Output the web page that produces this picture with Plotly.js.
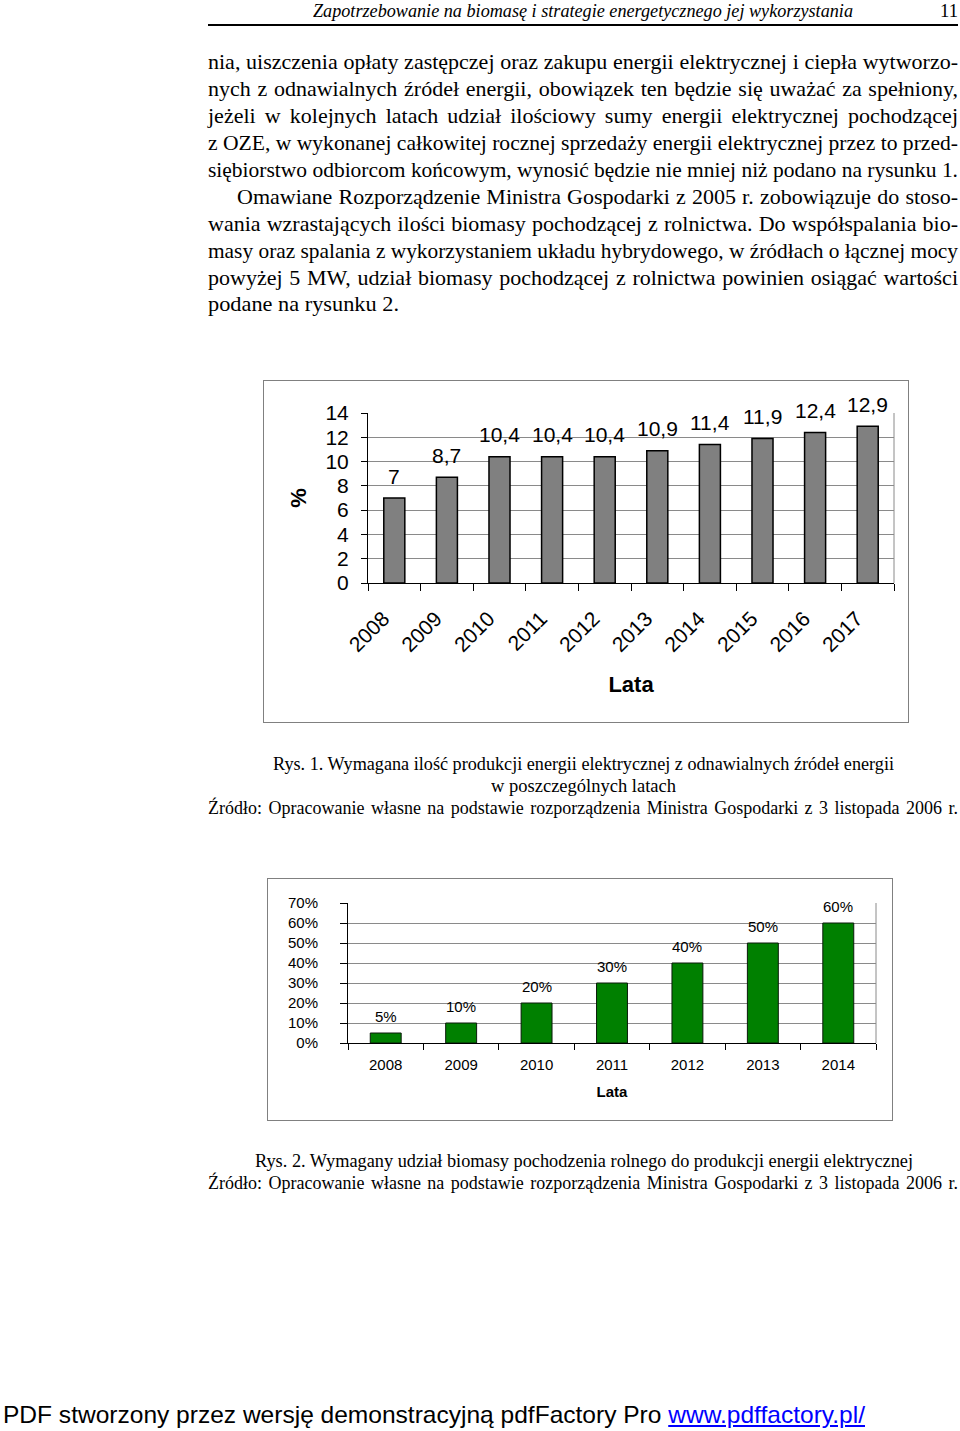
<!DOCTYPE html>
<html>
<head>
<meta charset="utf-8">
<script src="https://cdn.plot.ly/plotly-3.0.1.min.js"></script>
<style>
  html, body { margin:0; padding:0; background:#fff; }
  #page { position:relative; width:960px; height:1431px; overflow:hidden; background:#fff; }
  .t { position:absolute; white-space:nowrap; line-height:1; transform-origin:0 50%; color:#000; }
  .serif { font-family:"Liberation Serif","Times New Roman",serif; }
  .sans { font-family:"Liberation Sans",Arial,sans-serif; }
  .frame { position:absolute; border:1px solid #808080; box-sizing:border-box; }
  .plot { position:absolute; }
</style>
</head>
<body>
<div id="page">
  <div style="position:absolute;left:208px;top:24px;width:750px;height:2px;background:#000"></div>
  <div class="frame" style="left:263px;top:380px;width:646px;height:343px"></div>
  <div class="frame" style="left:267px;top:878px;width:626px;height:243px"></div>
  <div id="chart1" class="plot" style="left:263px;top:380px;width:645px;height:342px"></div>
  <div id="chart2" class="plot" style="left:267px;top:878px;width:625px;height:242px"></div>
</div>
<script>
// ---------- DATA ----------
const years1 = ['2008','2009','2010','2011','2012','2013','2014','2015','2016','2017'];
const ozeShare = [7, 8.7, 10.4, 10.4, 10.4, 10.9, 11.4, 11.9, 12.4, 12.9];

const years2 = ['2008','2009','2010','2011','2012','2013','2014'];
const biomassShare = [5, 10, 20, 30, 40, 50, 60];

const xTitle = 'Lata';
const yTitle1 = '%';

// ---------- PAGE TEXT ----------
const headerText = 'Zapotrzebowanie na biomasę i strategie energetycznego jej wykorzystania';
const pageNumber = '11';
const bodyLines = [
  'nia, uiszczenia opłaty zastępczej oraz zakupu energii elektrycznej i ciepła wytworzo-',
  'nych z odnawialnych źródeł energii, obowiązek ten będzie się uważać za spełniony,',
  'jeżeli w kolejnych latach udział ilościowy sumy energii elektrycznej pochodzącej',
  'z OZE, w wykonanej całkowitej rocznej sprzedaży energii elektrycznej przez to przed-',
  'siębiorstwo odbiorcom końcowym, wynosić będzie nie mniej niż podano na rysunku 1.',
  'Omawiane Rozporządzenie Ministra Gospodarki z 2005 r. zobowiązuje do stoso-',
  'wania wzrastających ilości biomasy pochodzącej z rolnictwa. Do współspalania bio-',
  'masy oraz spalania z wykorzystaniem układu hybrydowego, w źródłach o łącznej mocy',
  'powyżej 5 MW, udział biomasy pochodzącej z rolnictwa powinien osiągać wartości',
  'podane na rysunku 2.'
];
const caption1 = ['Rys. 1. Wymagana ilość produkcji energii elektrycznej z odnawialnych źródeł energii',
                  'w poszczególnych latach',
                  'Źródło: Opracowanie własne na podstawie rozporządzenia Ministra Gospodarki z 3 listopada 2006 r.'];
const caption2 = ['Rys. 2. Wymagany udział biomasy pochodzenia rolnego do produkcji energii elektrycznej',
                  'Źródło: Opracowanie własne na podstawie rozporządzenia Ministra Gospodarki z 3 listopada 2006 r.'];
const footerText = 'PDF stworzony przez wersję demonstracyjną pdfFactory Pro ';
const footerLink = 'www.pdffactory.pl/';

// ---------- PAGE TEXT LAYOUT ----------
const page = document.getElementById('page');
const items = [];
function addText(html, x0, x1, yc, size, cls, mode, extraStyle) {
  const d = document.createElement('div');
  d.className = 't ' + cls;
  d.innerHTML = html;
  d.style.left = x0 + 'px';
  d.style.top = (yc - size * 0.5) + 'px';
  d.style.fontSize = size + 'px';
  if (extraStyle) d.setAttribute('style', d.getAttribute('style') + ';' + extraStyle);
  page.appendChild(d);
  items.push({el: d, w: x1 - x0, mode: mode});
}
addText(headerText, 313, 853, 11, 18, 'serif', 'scale', 'font-style:italic');
addText(pageNumber, 940, 958, 11, 18, 'serif', 'scale');
const bodyY = [62, 89, 116, 143, 170, 197, 224, 251, 278, 304];
bodyLines.forEach((s, i) => {
  const x0 = (i === 5) ? 237 : 208;
  const x1 = (i === 9) ? 399 : 958;
  addText(s, x0, x1, bodyY[i], 22, 'serif', i === 9 ? 'scale' : 'justify');
});
addText(caption1[0], 273, 894, 764, 18, 'serif', 'scale');
addText(caption1[1], 491, 676, 786, 18, 'serif', 'scale');
addText(caption1[2], 208, 958, 808, 18, 'serif', 'justify');
addText(caption2[0], 255, 913, 1161, 18, 'serif', 'scale');
addText(caption2[1], 208, 958, 1183, 18, 'serif', 'justify');
addText(footerText + '<span style="color:#0000ff;text-decoration:underline">' + footerLink + '</span>',
        3, 865, 1415, 24, 'sans', 'scale');

function fitAll() {
  items.forEach(it => {
    const el = it.el;
    el.style.transform = 'none';
    el.style.wordSpacing = '0px';
    const w = el.getBoundingClientRect().width;
    if (it.mode === 'justify') {
      const n = (el.textContent.match(/ /g) || []).length;
      if (w <= it.w && n > 0) {
        el.style.wordSpacing = ((it.w - w) / n) + 'px';
        return;
      }
    }
    el.style.transform = 'scaleX(' + (it.w / w) + ')';
  });
}

// ---------- CHARTS ----------
const fontFam = '"Liberation Sans", Arial, sans-serif';
const gridCol = '#8a8a8a';

const labels1 = ozeShare.map(v => String(v).replace('.', ','));
const trace1 = {
  type: 'bar', x: years1, y: ozeShare,
  marker: {color: '#808080', line: {color: '#000', width: 1.5}},
  hoverinfo: 'skip'
};
const ann1 = years1.map((c, i) => ({
  x: i, y: ozeShare[i], xref: 'x', yref: 'y', text: labels1[i], showarrow: false,
  yanchor: 'middle', yshift: 22, font: {family: fontFam, size: 21, color: '#000'}
}));
const layout1 = {
  width: 645, height: 342,
  margin: {l: 105, r: 14, t: 33, b: 139, pad: 0},
  paper_bgcolor: 'rgba(0,0,0,0)', plot_bgcolor: 'rgba(0,0,0,0)',
  font: {family: fontFam, color: '#000'},
  bargap: 0.6, showlegend: false,
  xaxis: {
    type: 'category', range: [-0.5, years1.length - 0.5], autorange: false,
    tickangle: -45, tickfont: {size: 21, color: '#000'},
    ticks: 'outside', tickson: 'boundaries', ticklen: 7, tickcolor: '#000',
    showline: true, linecolor: '#000', linewidth: 1, showgrid: false,
    ticklabelstandoff: 14, ticklabelshift: -11,
    title: {text: xTitle, font: {size: 22, weight: 'bold', color: '#000'}, standoff: 21}
  },
  yaxis: {
    range: [0, 14], autorange: false, dtick: 2, tick0: 0, tickfont: {size: 21, color: '#000'},
    ticks: 'outside', ticklen: 6, tickcolor: '#000',
    showline: true, linecolor: '#000', linewidth: 1,
    gridcolor: gridCol, gridwidth: 1, zeroline: false,
    ticklabelstandoff: 8,
    title: {text: yTitle1, font: {size: 22, weight: 'bold', color: '#000'}, standoff: 12}
  },
  shapes: [{type: 'line', xref: 'paper', yref: 'paper', x0: 1, x1: 1, y0: 0, y1: 1,
            line: {color: gridCol, width: 1}}],
  annotations: ann1
};

const trace2 = {
  type: 'bar', x: years2, y: biomassShare,
  marker: {color: '#008000', line: {color: '#0a1a0a', width: 1}},
  hoverinfo: 'skip'
};
const ann2 = years2.map((c, i) => ({
  x: i, y: biomassShare[i], xref: 'x', yref: 'y', text: biomassShare[i] + '%', showarrow: false,
  yanchor: 'middle', yshift: 17, font: {family: fontFam, size: 15, color: '#000'}
}));
const layout2 = {
  width: 625, height: 242,
  margin: {l: 81, r: 16, t: 25, b: 77, pad: 0},
  paper_bgcolor: 'rgba(0,0,0,0)', plot_bgcolor: 'rgba(0,0,0,0)',
  font: {family: fontFam, color: '#000'},
  bargap: 0.59, showlegend: false,
  xaxis: {
    type: 'category', range: [-0.5, years2.length - 0.5], autorange: false,
    tickangle: 0, tickfont: {size: 15, color: '#000'},
    ticks: 'outside', tickson: 'boundaries', ticklen: 6, tickcolor: '#000',
    showline: true, linecolor: '#000', linewidth: 1, showgrid: false,
    ticklabelstandoff: 8,
    title: {text: xTitle, font: {size: 15, weight: 'bold', color: '#000'}, standoff: 14}
  },
  yaxis: {
    range: [0, 70], autorange: false, dtick: 10, tick0: 0, ticksuffix: '%', tickfont: {size: 15, color: '#000'},
    ticks: 'outside', ticklen: 7, tickcolor: '#000',
    showline: true, linecolor: '#000', linewidth: 1,
    gridcolor: gridCol, gridwidth: 1, zeroline: false,
    ticklabelstandoff: 19
  },
  shapes: [{type: 'line', xref: 'paper', yref: 'paper', x0: 1, x1: 1, y0: 0, y1: 1,
            line: {color: gridCol, width: 1}}],
  annotations: ann2
};

const cfg = {displayModeBar: false, staticPlot: true};
Plotly.newPlot('chart1', [trace1], layout1, cfg);
Plotly.newPlot('chart2', [trace2], layout2, cfg);

if (document.fonts && document.fonts.ready) {
  document.fonts.ready.then(fitAll);
}
fitAll();
</script>
</body>
</html>
